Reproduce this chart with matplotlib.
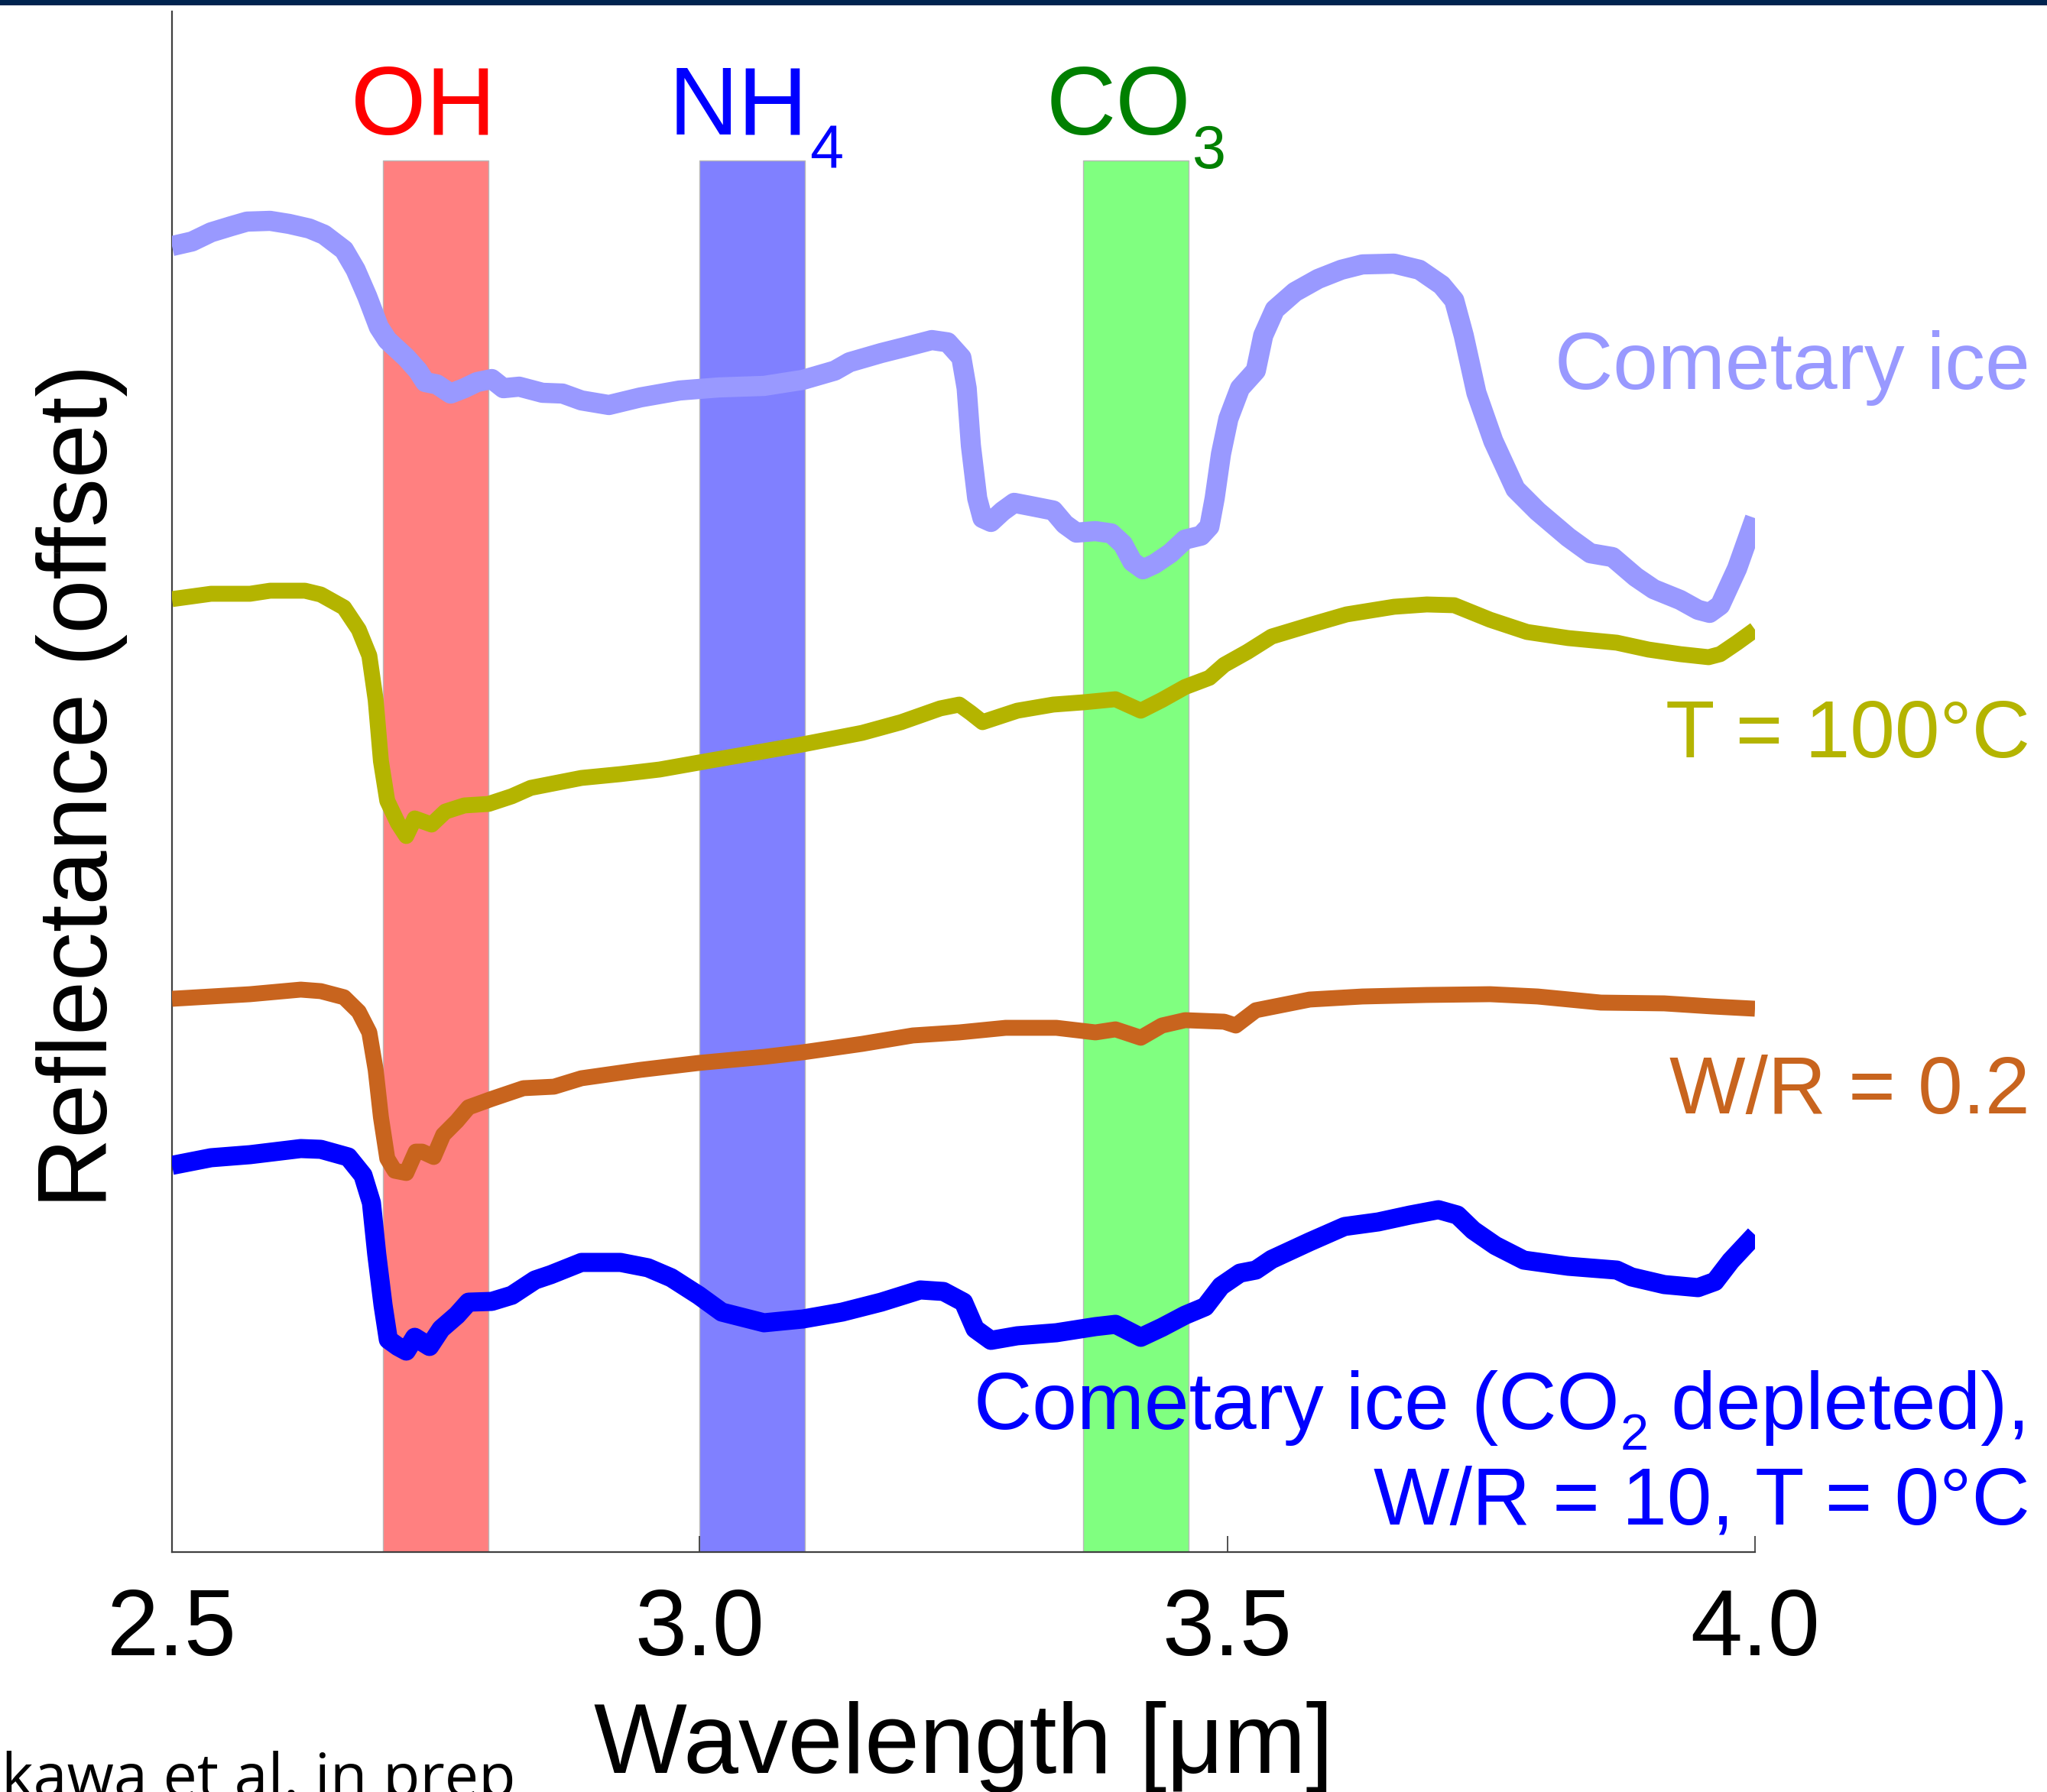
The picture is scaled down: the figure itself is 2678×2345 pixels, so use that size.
import matplotlib
matplotlib.use("Agg")
import matplotlib.pyplot as plt
from matplotlib.patches import Rectangle

plt.rcParams['font.family'] = ['Liberation Sans', 'DejaVu Sans']

# ---------------- data ----------------
comet_wl = [2.500, 2.519, 2.537, 2.556, 2.571, 2.593, 2.611, 2.630, 2.644, 2.663,
            2.674, 2.685, 2.696, 2.704, 2.722, 2.733, 2.740, 2.751, 2.764, 2.777,
            2.789, 2.803, 2.814, 2.829, 2.851, 2.870, 2.888, 2.914, 2.944, 2.981,
            3.018, 3.061, 3.098, 3.128, 3.142, 3.172, 3.195, 3.220, 3.235, 3.248,
            3.253, 3.257, 3.263, 3.268, 3.276, 3.287, 3.298, 3.313, 3.335, 3.346,
            3.357, 3.375, 3.390, 3.401, 3.410, 3.420, 3.431, 3.446, 3.460, 3.475,
            3.483, 3.488, 3.494, 3.501, 3.512, 3.527, 3.534, 3.545, 3.564, 3.586,
            3.608, 3.628, 3.658, 3.682, 3.703, 3.715, 3.724, 3.736, 3.752, 3.773,
            3.794, 3.823, 3.844, 3.865, 3.887, 3.904, 3.929, 3.946, 3.957, 3.967,
            3.983, 3.992, 4.000]
comet_refl = [1.709, 1.715, 1.727, 1.735, 1.741, 1.742, 1.738, 1.732, 1.724, 1.704,
              1.678, 1.643, 1.603, 1.586, 1.563, 1.546, 1.531, 1.528, 1.516, 1.523,
              1.531, 1.535, 1.523, 1.525, 1.517, 1.516, 1.507, 1.501, 1.511, 1.520,
              1.524, 1.526, 1.534, 1.546, 1.557, 1.569, 1.577, 1.586, 1.583, 1.563,
              1.523, 1.448, 1.379, 1.353, 1.348, 1.362, 1.373, 1.369, 1.363, 1.345,
              1.334, 1.336, 1.333, 1.319, 1.296, 1.286, 1.293, 1.307, 1.325, 1.330,
              1.342, 1.379, 1.437, 1.483, 1.523, 1.546, 1.592, 1.626, 1.649, 1.666,
              1.678, 1.685, 1.686, 1.678, 1.658, 1.638, 1.592, 1.517, 1.454, 1.391,
              1.362, 1.328, 1.307, 1.302, 1.276, 1.260, 1.246, 1.233, 1.229, 1.239,
              1.287, 1.322, 1.353]

t100_wl = [2.500, 2.537, 2.574, 2.593, 2.626, 2.641, 2.663, 2.677, 2.687, 2.693,
           2.698, 2.704, 2.714, 2.722, 2.730, 2.746, 2.759, 2.777, 2.800, 2.822,
           2.840, 2.888, 2.925, 2.962, 3.007, 3.061, 3.098, 3.154, 3.191, 3.228,
           3.246, 3.257, 3.268, 3.301, 3.335, 3.364, 3.394, 3.418, 3.438, 3.460,
           3.483, 3.497, 3.519, 3.542, 3.578, 3.613, 3.658, 3.689, 3.715, 3.749,
           3.784, 3.823, 3.869, 3.899, 3.929, 3.956, 3.967, 3.983, 4.000]
t100_refl = [1.247, 1.254, 1.254, 1.258, 1.258, 1.253, 1.236, 1.207, 1.173, 1.115,
             1.035, 0.983, 0.954, 0.937, 0.960, 0.952, 0.969, 0.977, 0.979, 0.989,
             1.000, 1.013, 1.018, 1.024, 1.035, 1.048, 1.057, 1.072, 1.086, 1.104,
             1.109, 1.098, 1.086, 1.101, 1.109, 1.112, 1.116, 1.101, 1.115, 1.132,
             1.144, 1.161, 1.178, 1.198, 1.213, 1.227, 1.237, 1.240, 1.239, 1.220,
             1.204, 1.196, 1.190, 1.181, 1.175, 1.171, 1.175, 1.190, 1.207]

wr02_wl = [2.500, 2.537, 2.574, 2.622, 2.641, 2.663, 2.677, 2.687, 2.693, 2.698,
           2.704, 2.711, 2.722, 2.731, 2.737, 2.748, 2.757, 2.770, 2.781, 2.803,
           2.833, 2.862, 2.888, 2.944, 2.999, 3.061, 3.098, 3.154, 3.202, 3.246,
           3.290, 3.338, 3.375, 3.394, 3.418, 3.438, 3.460, 3.497, 3.508, 3.527,
           3.578, 3.628, 3.689, 3.749, 3.794, 3.854, 3.914, 3.959, 4.000]
wr02_refl = [0.724, 0.727, 0.730, 0.736, 0.734, 0.726, 0.707, 0.680, 0.631, 0.569,
             0.515, 0.499, 0.496, 0.524, 0.524, 0.517, 0.546, 0.564, 0.582, 0.593,
             0.607, 0.609, 0.620, 0.631, 0.640, 0.648, 0.654, 0.665, 0.676, 0.680,
             0.686, 0.686, 0.680, 0.684, 0.673, 0.689, 0.696, 0.694, 0.689, 0.709,
             0.723, 0.727, 0.729, 0.730, 0.727, 0.719, 0.718, 0.714, 0.711]

dep_wl = [2.500, 2.537, 2.574, 2.622, 2.641, 2.667, 2.681, 2.689, 2.694, 2.700,
          2.705, 2.714, 2.722, 2.730, 2.744, 2.755, 2.770, 2.781, 2.803, 2.822,
          2.844, 2.859, 2.888, 2.925, 2.951, 2.973, 2.999, 3.021, 3.061, 3.098,
          3.135, 3.172, 3.209, 3.231, 3.250, 3.261, 3.276, 3.301, 3.338, 3.375,
          3.394, 3.418, 3.438, 3.460, 3.479, 3.494, 3.512, 3.527, 3.542, 3.578,
          3.611, 3.643, 3.673, 3.700, 3.718, 3.733, 3.754, 3.781, 3.823, 3.869,
          3.883, 3.914, 3.946, 3.962, 3.977, 4.000]
dep_refl = [0.506, 0.516, 0.520, 0.528, 0.527, 0.517, 0.493, 0.457, 0.390, 0.323,
            0.278, 0.269, 0.263, 0.281, 0.269, 0.292, 0.310, 0.327, 0.328, 0.336,
            0.356, 0.363, 0.379, 0.379, 0.372, 0.359, 0.336, 0.314, 0.300, 0.305,
            0.314, 0.327, 0.343, 0.341, 0.327, 0.292, 0.277, 0.283, 0.287, 0.295,
            0.298, 0.281, 0.294, 0.310, 0.321, 0.348, 0.365, 0.369, 0.383, 0.406,
            0.426, 0.432, 0.441, 0.448, 0.441, 0.421, 0.401, 0.382, 0.374, 0.369,
            0.360, 0.350, 0.346, 0.354, 0.381, 0.415]

band_names = ['OH', 'NH', 'CO']
band_subs = ['', '4', '3']
band_lo = [2.70, 3.00, 3.363]
band_hi = [2.80, 3.10, 3.463]
band_top = 1.821

xticks = [2.5, 3.0, 3.5, 4.0]
xtick_labels = ['2.5', '3.0', '3.5', '4.0']

# ---------------- figure ----------------
W, H = 2678, 2345
fig = plt.figure(figsize=(W / 100, H / 100), dpi=100)
fig.patch.set_facecolor('white')
ax = fig.add_axes([225 / W, (H - 2031) / H, (2296 - 225) / W, (2031 - 15) / H])

band_colors = ['#ff8080', '#8080ff', '#80ff80']
label_colors = ['#ff0000', '#0000ff', '#008000']
label_x = [2.7379, 3.0367, 3.397]
label_y = 1.855
for lo, hi, fc in zip(band_lo, band_hi, band_colors):
    ax.bar((lo + hi) / 2, band_top, width=hi - lo, bottom=0, color=fc,
           edgecolor='#b8b8b8', linewidth=1.0, zorder=1)
for name, sub, x, c in zip(band_names, band_subs, label_x, label_colors):
    t = ax.text(x, label_y, name, color=c, fontsize=91, ha='center', va='baseline')
    if sub:
        ax.annotate(sub, xy=(1, label_y), xycoords=(t, 'data'), xytext=(2, -44),
                    textcoords='offset pixels', color=c, fontsize=57,
                    ha='left', va='baseline')

line_kw = dict(solid_capstyle='butt', solid_joinstyle='round', zorder=3)
ax.plot(comet_wl, comet_refl, color='#9999ff', lw=19, **line_kw)
ax.plot(t100_wl, t100_refl, color='#b4b400', lw=15, **line_kw)
ax.plot(wr02_wl, wr02_refl, color='#c8641e', lw=15, **line_kw)
ax.plot(dep_wl, dep_refl, color='#0000ff', lw=18, **line_kw)

xr = 4.2607
fs = 76
ax.text(xr, 1.522, 'Cometary ice', color='#9999ff', fontsize=fs, ha='right', va='baseline')
ax.text(xr, 1.040, 'T = 100°C', color='#b4b400', fontsize=fs, ha='right', va='baseline')
ax.text(xr, 0.574, 'W/R = 0.2', color='#c8641e', fontsize=fs, ha='right', va='baseline')
yb = 0.161
t_end = ax.text(xr, yb, ' depleted),', color='#0000ff', fontsize=fs,
                ha='right', va='baseline')
t_sub = ax.annotate('2', xy=(0, yb), xycoords=(t_end, 'data'), xytext=(-1, -27),
                    textcoords='offset pixels', color='#0000ff', fontsize=48,
                    ha='right', va='baseline')
ax.annotate('Cometary ice (CO', xy=(0, yb), xycoords=(t_sub, 'data'), xytext=(-1, 0),
            textcoords='offset pixels', color='#0000ff', fontsize=fs,
            ha='right', va='baseline')
ax.text(xr, 0.037, 'W/R = 10, T = 0°C', color='#0000ff', fontsize=fs,
        ha='right', va='baseline')

ax.set_xlim(2.5, 4.0)
ax.set_ylim(0, 2.016)
ax.set_xticks(xticks)
ax.set_xticklabels(xtick_labels)
ax.set_yticks([])
ax.tick_params(axis='x', direction='in', length=15, width=1.2, color='#333333',
               labelsize=88, pad=33)
for s in ['top', 'right']:
    ax.spines[s].set_visible(False)
for s in ['left', 'bottom']:
    ax.spines[s].set_color('#404040')
    ax.spines[s].set_linewidth(1.6)

ax.set_xlabel('Wavelength [μm]', fontsize=93, va='baseline')
ax.xaxis.set_label_coords(0.5, (2031 - 2320) / 2016)
ax.set_ylabel('Reflectance (offset)', fontsize=92, va='baseline', ha='center')
ax.yaxis.set_label_coords((140 - 225) / 2071, 0.497)

# top navy bar
fig.patches.append(Rectangle((0, 1 - 7 / H), 1, 7 / H, transform=fig.transFigure,
                             facecolor='#00234f', edgecolor='none'))

fig.text(675 / W, (H - 2351) / H, 'kawa et al. in prep', family=['Open Sans', 'DejaVu Sans'],
         fontsize=57, color='black', ha='right', va='baseline')

fig.savefig('out.png', dpi=100)
